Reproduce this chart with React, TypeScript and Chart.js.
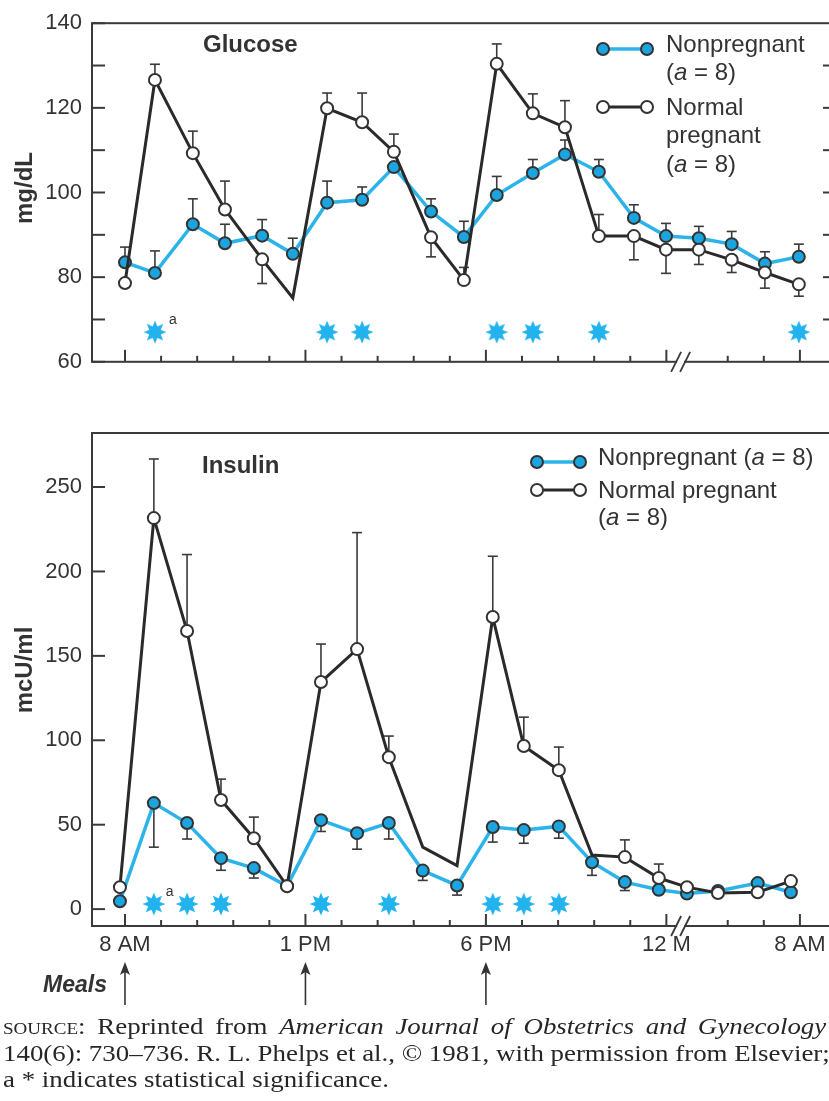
import React, { useEffect, useRef } from 'react';
import { Chart, registerables } from 'chart.js';

Chart.register(...registerables);

const SANS = '"Liberation Sans", Arial, Helvetica, sans-serif';
const SERIF = '"Liberation Serif", "Times New Roman", serif';
const INK = '#333333';
const FRAME = '#3a3a3a';
const BLUE_LINE = '#2cb4ea';
const BLUE_FILL = '#1ba4dd';
const BLACK_LINE = '#2a2a2a';
const STAR_BLUE = '#22b3ef';

// ---------- x axis (hours as drawn, 8 AM = 0) ----------
const xTickValues = [0, 1, 2, 3, 4, 5, 6, 7, 8, 9, 10, 11, 12, 13, 14, 15, 16.7, 17.7, 18.7];
const xMajorTicks = [0, 5, 10, 15, 18.7];
const xMajorLabels = ['8 AM', '1 PM', '6 PM', '12 M', '8 AM'];
const axisBreak = [15.27, 15.52];
const mealTimes = [0, 5, 10];

// ---------- Glucose (mg/dL) ----------
const glucoseTimes = [0, 0.83, 1.88, 2.77, 3.8, 4.65, 5.6, 6.57, 7.45, 8.48, 9.39, 10.3, 11.3, 12.19, 13.13, 14.1, 14.99, 15.9, 16.81, 17.73, 18.67];
const glucoseNonpregnant = [83.5, 81, 92.5, 88, 89.8, 85.5, 97.6, 98.3, 106, 95.5, 89.5, 99.4, 104.6, 109, 104.9, 94, 89.7, 89.2, 87.8, 83.2, 84.8];
const glucosePregnant = [78.6, 126.6, 109.3, 96, 84.2, 75.1, 119.9, 116.6, 109.6, 89.4, 79.3, 130.4, 118.7, 115.4, 89.7, 89.7, 86.5, 86.5, 84.1, 81.1, 78.3];
const glucoseNonpregnantErr = [87.1, 86.2, 98.5, 92.5, 93.6, 89.2, 102.7, 101.3, null, 98.5, 93.2, 103.8, 107.8, 112.4, 107.8, 97.1, 92.7, 92, 90.8, 86, 87.8];
const glucosePregnantErr = [null, 130.3, 114.5, 102.7, 78.5, null, 123.5, 123.5, 113.8, 84.8, 82.3, 135.1, 123.3, 121.7, 94.8, 84.1, 80.9, 83, 81.1, 77.4, 75.5];
const glucosePregnantMarkers = [1, 1, 1, 1, 1, 0, 1, 1, 1, 1, 1, 1, 1, 1, 1, 1, 1, 1, 1, 1, 1];
const glucoseSignificantIdx = [1, 6, 7, 11, 12, 14, 20];
const glucoseStarLevel = 67;
const glucoseYMarks = [60, 70, 80, 90, 100, 110, 120, 130, 140];
const glucoseYLabels = [60, 80, 100, 120, 140];
const glucoseRightMarks = [70, 80, 90, 100, 110, 120, 130];

// ---------- Insulin (mcU/ml) ----------
const insulinTimes = [-0.14, 0.8, 1.72, 2.66, 3.57, 4.49, 5.43, 6.43, 7.31, 8.25, 9.2, 10.19, 11.05, 12.02, 12.94, 13.85, 14.79, 15.57, 16.43, 17.53, 18.45];
const insulinNonpregnant = [4.7, 62.8, 51, 30.2, 24.3, 13.6, 52.7, 45, 51, 22.8, 14, 48.6, 46.8, 49, 27.8, 16, 11.5, 9.2, 10.7, 15.4, 10];
const insulinPregnant = [13, 231.6, 164.7, 64.6, 42, 13.6, 134.5, 154, 90, 36.7, 25.8, 173, 96.6, 82.3, 32, 30.8, 18.4, 13, 9.5, 10, 16.6];
const insulinNonpregnantErr = [null, 36.7, 41.5, 23, 18.4, null, 46, 35.5, 41.5, 17, 8.3, 39.7, 39, 42, 20, 11, null, null, null, null, null];
const insulinPregnantErr = [null, 266.6, 210, 77, 54.5, null, 157, 223, 102.5, null, null, 209, 113.7, 96, null, 41, 26.7, null, null, null, null];
const insulinPregnantMarkers = [1, 1, 1, 1, 1, 1, 1, 1, 1, 0, 0, 1, 1, 1, 0, 1, 1, 1, 1, 1, 1];
const insulinSignificantIdx = [1, 2, 3, 6, 8, 11, 12, 13];
const insulinStarLevel = 3;
const insulinYMarks = [0, 50, 100, 150, 200, 250];
const insulinYLabels = [0, 50, 100, 150, 200, 250];

type Num = number | null;

interface PanelSpec {
  width: number;
  height: number;
  padTop: number;
  xAxisHeight: number;
  yMin: number;
  yMax: number;
  yMarks: number[];
  yLabels: number[];
  rightMarks: number[];
  times: number[];
  nonpreg: number[];
  preg: number[];
  nonpregErr: Num[];
  pregErr: Num[];
  pregMarkers: number[];
  starIdx: number[];
  starLevel: number;
  showXLabels: boolean;
  decorate: (ctx: CanvasRenderingContext2D, chart: any) => void;
}

function makeStar(color: string) {
  const c = document.createElement('canvas');
  c.width = 24;
  c.height = 24;
  const g = c.getContext('2d')!;
  g.fillStyle = color;
  g.beginPath();
  const n = 8;
  const R = 11.5;
  const r = 6.2;
  for (let k = 0; k < 2 * n; k++) {
    const a = -Math.PI / 2 + (k * Math.PI) / n;
    const rad = k % 2 === 0 ? R : r;
    const x = 12 + rad * Math.cos(a);
    const y = 12 + rad * Math.sin(a);
    if (k === 0) g.moveTo(x, y);
    else g.lineTo(x, y);
  }
  g.closePath();
  g.fill();
  return c;
}

function line(ctx: CanvasRenderingContext2D, x1: number, y1: number, x2: number, y2: number) {
  ctx.beginPath();
  ctx.moveTo(x1, y1);
  ctx.lineTo(x2, y2);
  ctx.stroke();
}

function drawMarker(ctx: CanvasRenderingContext2D, x: number, y: number, filled: boolean) {
  ctx.beginPath();
  ctx.arc(x, y, 6, 0, Math.PI * 2);
  ctx.fillStyle = filled ? BLUE_FILL : '#ffffff';
  ctx.fill();
  ctx.lineWidth = 2;
  ctx.strokeStyle = '#333333';
  ctx.stroke();
}

function drawLegendKey(ctx: CanvasRenderingContext2D, x1: number, x2: number, y: number, filled: boolean) {
  ctx.lineWidth = filled ? 3.5 : 3;
  ctx.strokeStyle = filled ? BLUE_LINE : BLACK_LINE;
  line(ctx, x1, y, x2, y);
  drawMarker(ctx, x1, y, filled);
  drawMarker(ctx, x2, y, filled);
}

function drawRich(ctx: CanvasRenderingContext2D, x: number, y: number, parts: [string, boolean][], size = 24) {
  let cx = x;
  ctx.fillStyle = INK;
  ctx.textAlign = 'left';
  ctx.textBaseline = 'alphabetic';
  for (const [t, it] of parts) {
    ctx.font = `${it ? 'italic ' : ''}${size}px ${SANS}`;
    ctx.fillText(t, cx, y);
    cx += ctx.measureText(t).width;
  }
}

function drawRotated(ctx: CanvasRenderingContext2D, text: string, x: number, y: number) {
  ctx.save();
  ctx.translate(x, y);
  ctx.rotate(-Math.PI / 2);
  ctx.font = `bold 24px ${SANS}`;
  ctx.fillStyle = INK;
  ctx.textAlign = 'center';
  ctx.textBaseline = 'middle';
  ctx.fillText(text, 0, 0);
  ctx.restore();
}

function buildChart(canvas: HTMLCanvasElement, p: PanelSpec) {
  const starImg = makeStar(STAR_BLUE);
  const pts = (vals: number[]) => p.times.map((t, i) => ({ x: t, y: vals[i] }));
  const stars = p.starIdx.map((i) => ({ x: p.times[i], y: p.starLevel }));

  const panelPlugin = {
    id: 'panelDecor',
    beforeDatasetsDraw(chart: any) {
      const ctx: CanvasRenderingContext2D = chart.ctx;
      const ys = chart.scales.y;
      ctx.save();
      ctx.strokeStyle = FRAME;
      ctx.lineWidth = 1.6;
      const sets: [number, Num[]][] = [
        [0, p.nonpregErr],
        [1, p.pregErr],
      ];
      sets.forEach(([di, errs]) => {
        const meta = chart.getDatasetMeta(di);
        errs.forEach((tip, i) => {
          if (tip == null) return;
          const el = meta.data[i];
          const ty = ys.getPixelForValue(tip);
          line(ctx, el.x, el.y, el.x, ty);
          line(ctx, el.x - 5, ty, el.x + 5, ty);
        });
      });
      ctx.restore();
    },
    afterDraw(chart: any) {
      const ctx: CanvasRenderingContext2D = chart.ctx;
      const { left, right, top, bottom } = chart.chartArea;
      const xs = chart.scales.x;
      const ys = chart.scales.y;
      ctx.save();
      ctx.strokeStyle = FRAME;
      ctx.lineWidth = 2;
      ctx.strokeRect(left, top, right - left, bottom - top);
      p.yMarks.forEach((v) => {
        const y = ys.getPixelForValue(v);
        line(ctx, left, y, left + 13, y);
      });
      p.rightMarks.forEach((v) => {
        const y = ys.getPixelForValue(v);
        line(ctx, right - 13, y, right, y);
      });
      xTickValues.forEach((v) => {
        const x = xs.getPixelForValue(v);
        const len = xMajorTicks.includes(v) ? 12 : 6;
        line(ctx, x, bottom, x, bottom - len);
      });
      const b1 = xs.getPixelForValue(axisBreak[0]);
      const b2 = xs.getPixelForValue(axisBreak[1]);
      ctx.fillStyle = '#ffffff';
      ctx.fillRect(b1 + 1, bottom - 2, b2 - b1 - 2, 4);
      ctx.lineWidth = 1.8;
      [b1, b2].forEach((x) => line(ctx, x - 5, bottom + 10, x + 5, bottom - 10));
      p.decorate(ctx, chart);
      ctx.restore();
    },
  };

  return new Chart(canvas, {
    type: 'line',
    data: {
      datasets: [
        {
          label: 'Nonpregnant',
          data: pts(p.nonpreg),
          borderColor: BLUE_LINE,
          borderWidth: 3.5,
          pointRadius: 6,
          pointBackgroundColor: BLUE_FILL,
          pointBorderColor: '#333333',
          pointBorderWidth: 2,
          tension: 0,
          order: 2,
        },
        {
          label: 'Normal pregnant',
          data: pts(p.preg),
          borderColor: BLACK_LINE,
          borderWidth: 3,
          pointRadius: p.pregMarkers.map((m) => (m ? 6 : 0)),
          pointBackgroundColor: '#ffffff',
          pointBorderColor: '#333333',
          pointBorderWidth: 2,
          tension: 0,
          order: 1,
        },
        {
          label: 'significant',
          data: stars,
          showLine: false,
          pointStyle: starImg as any,
          pointRadius: 11,
          order: 3,
        },
      ],
    } as any,
    options: {
      animation: false,
      responsive: false,
      maintainAspectRatio: false,
      devicePixelRatio: 1,
      events: [],
      layout: { autoPadding: false, padding: { top: p.padTop, right: 4, left: 0, bottom: 0 } },
      plugins: { legend: { display: false }, tooltip: { enabled: false } },
      scales: {
        x: {
          type: 'linear',
          min: -0.914,
          max: 19.7,
          afterBuildTicks: (s: any) => {
            s.ticks = xTickValues.map((v) => ({ value: v }));
          },
          afterFit: (s: any) => {
            s.height = p.xAxisHeight;
          },
          ticks: {
            display: p.showXLabels,
            autoSkip: false,
            maxRotation: 0,
            minRotation: 0,
            padding: 6,
            color: INK,
            font: { family: SANS, size: 22 },
            callback: (v: any) => {
              const k = xMajorTicks.indexOf(Number(v));
              return k >= 0 ? xMajorLabels[k] : '';
            },
          },
          grid: { display: false, drawTicks: false },
          border: { display: false },
        },
        y: {
          type: 'linear',
          min: p.yMin,
          max: p.yMax,
          afterBuildTicks: (s: any) => {
            s.ticks = p.yMarks.map((v) => ({ value: v }));
          },
          afterFit: (s: any) => {
            s.width = 92;
          },
          ticks: {
            autoSkip: false,
            padding: 10,
            color: INK,
            font: { family: SANS, size: 22 },
            callback: (v: any) => (p.yLabels.includes(Number(v)) ? String(v) : ''),
          },
          grid: { display: false, drawTicks: false },
          border: { display: false },
        },
      },
    } as any,
    plugins: [panelPlugin],
  });
}

const glucoseSpec: PanelSpec = {
  width: 840,
  height: 385,
  padTop: 18,
  xAxisHeight: 22,
  yMin: 60,
  yMax: 140,
  yMarks: glucoseYMarks,
  yLabels: glucoseYLabels,
  rightMarks: glucoseRightMarks,
  times: glucoseTimes,
  nonpreg: glucoseNonpregnant,
  preg: glucosePregnant,
  nonpregErr: glucoseNonpregnantErr,
  pregErr: glucosePregnantErr,
  pregMarkers: glucosePregnantMarkers,
  starIdx: glucoseSignificantIdx,
  starLevel: glucoseStarLevel,
  showXLabels: false,
  decorate: (ctx, chart) => {
    ctx.fillStyle = INK;
    ctx.font = `bold 24px ${SANS}`;
    ctx.textAlign = 'left';
    ctx.textBaseline = 'alphabetic';
    ctx.fillText('Glucose', 203, 52);
    drawRotated(ctx, 'mg/dL', 25, 188);
    drawLegendKey(ctx, 603, 647, 49, true);
    drawRich(ctx, 666, 52, [['Nonpregnant', false]]);
    drawRich(ctx, 666, 80, [['(', false], ['a', true], [' = 8)', false]]);
    drawLegendKey(ctx, 603, 647, 107, false);
    drawRich(ctx, 666, 115, [['Normal', false]]);
    drawRich(ctx, 666, 143, [['pregnant', false]]);
    drawRich(ctx, 666, 172, [['(', false], ['a', true], [' = 8)', false]]);
    const meta = chart.getDatasetMeta(2);
    const s0 = meta.data[0];
    ctx.font = `14px ${SANS}`;
    ctx.fillStyle = INK;
    ctx.fillText('a', s0.x + 14, s0.y - 8);
  },
};

const insulinSpec: PanelSpec = {
  width: 840,
  height: 625,
  padTop: 38,
  xAxisHeight: 94,
  yMin: -10,
  yMax: 282,
  yMarks: insulinYMarks,
  yLabels: insulinYLabels,
  rightMarks: [],
  times: insulinTimes,
  nonpreg: insulinNonpregnant,
  preg: insulinPregnant,
  nonpregErr: insulinNonpregnantErr,
  pregErr: insulinPregnantErr,
  pregMarkers: insulinPregnantMarkers,
  starIdx: insulinSignificantIdx,
  starLevel: insulinStarLevel,
  showXLabels: true,
  decorate: (ctx, chart) => {
    ctx.fillStyle = INK;
    ctx.font = `bold 24px ${SANS}`;
    ctx.textAlign = 'left';
    ctx.textBaseline = 'alphabetic';
    ctx.fillText('Insulin', 202, 78);
    drawRotated(ctx, 'mcU/ml', 25, 275);
    drawLegendKey(ctx, 537, 580, 67, true);
    drawRich(ctx, 598, 70, [['Nonpregnant (', false], ['a', true], [' = 8)', false]]);
    drawLegendKey(ctx, 537, 580, 95, false);
    drawRich(ctx, 598, 103, [['Normal pregnant', false]]);
    drawRich(ctx, 598, 130, [['(', false], ['a', true], [' = 8)', false]]);
    const meta = chart.getDatasetMeta(2);
    const s0 = meta.data[0];
    ctx.font = `14px ${SANS}`;
    ctx.fillStyle = INK;
    ctx.fillText('a', s0.x + 12, s0.y - 8);
    // Meals
    ctx.font = `italic bold 23px ${SANS}`;
    ctx.fillText('Meals', 43, 597);
    const xs = chart.scales.x;
    ctx.strokeStyle = INK;
    ctx.fillStyle = INK;
    ctx.lineWidth = 1.6;
    mealTimes.forEach((t) => {
      const x = xs.getPixelForValue(t);
      line(ctx, x, 574, x, 610);
      ctx.beginPath();
      ctx.moveTo(x, 567);
      ctx.lineTo(x - 5, 580);
      ctx.lineTo(x, 577);
      ctx.lineTo(x + 5, 580);
      ctx.closePath();
      ctx.fill();
    });
  },
};

function Panel({ spec, top }: { spec: PanelSpec; top: number }) {
  const ref = useRef<HTMLCanvasElement>(null);
  useEffect(() => {
    const chart = buildChart(ref.current!, spec);
    return () => chart.destroy();
  }, []);
  return (
    <div style={{ position: 'absolute', left: 0, top, width: spec.width, height: spec.height }}>
      <canvas
        ref={ref}
        width={spec.width}
        height={spec.height}
        style={{ display: 'block', width: spec.width, height: spec.height }}
      />
    </div>
  );
}

export default function App() {
  return (
    <div
      style={{
        position: 'absolute',
        left: 0,
        top: 0,
        width: 829,
        height: 1101,
        overflow: 'hidden',
        background: '#ffffff',
      }}
    >
      <Panel spec={glucoseSpec} top={0} />
      <Panel spec={insulinSpec} top={395} />
      <div
        style={{
          position: 'absolute',
          left: 3,
          top: 1013,
          width: 735,
          transform: 'scaleX(1.12)',
          transformOrigin: '0 0',
          fontFamily: SERIF,
          fontSize: 24,
          lineHeight: '26.5px',
          color: '#262626',
        }}
      >
        <div style={{ textAlign: 'justify', textAlignLast: 'justify' } as any}>
          <span style={{ fontVariant: 'small-caps' }}>source:</span> Reprinted from{' '}
          <i>American Journal of Obstetrics and Gynecology</i>
        </div>
        <div style={{ whiteSpace: 'nowrap' }}>
          140(6): 730–736. R. L. Phelps et al., © 1981, with permission from Elsevier;
        </div>
        <div style={{ whiteSpace: 'nowrap' }}>a * indicates statistical significance.</div>
      </div>
    </div>
  );
}
